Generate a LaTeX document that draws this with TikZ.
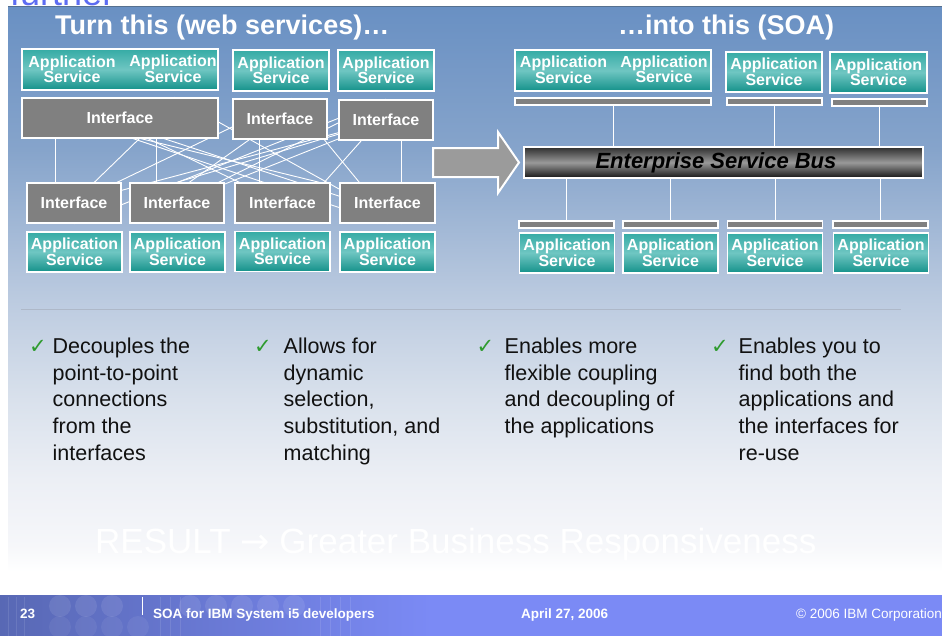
\documentclass[tikz,border=0pt]{standalone}
\usepackage{fontspec}
\setmainfont{Liberation Sans}
\newfontfamily\dejavu{DejaVu Sans}
\usetikzlibrary{calc}
\definecolor{pG}{HTML}{6990C3}
\definecolor{pF}{HTML}{86A4CB}
\definecolor{pE}{HTML}{BCCBE0}
\definecolor{pD}{HTML}{D9E1EC}
\definecolor{pC}{HTML}{ECEFF5}
\definecolor{pB}{HTML}{F6F7FA}
\definecolor{appT}{HTML}{35ABA5}
\definecolor{appM}{HTML}{6FC6C2}
\definecolor{appB}{HTML}{14918A}
\definecolor{ifgray}{HTML}{808080}
\definecolor{arrgray}{HTML}{9B9B9B}
\definecolor{chkgreen}{HTML}{2E9B2E}
\definecolor{bultext}{HTML}{111111}
\definecolor{furtherblue}{HTML}{5D6CF2}
\definecolor{foot}{HTML}{7B8AF5}
\definecolor{footL}{HTML}{5868B4}
\definecolor{topline}{HTML}{56708F}
\definecolor{sepcol}{HTML}{AEB8C8}
\pgfdeclareverticalshading{panelshade}{100bp}{color(0bp)=(white); color(25bp)=(white); color(27bp)=(white); color(29.2bp)=(pB); color(34.8bp)=(pC); color(41.6bp)=(pD); color(50bp)=(pE); color(62.8bp)=(pF); color(75bp)=(pG); color(100bp)=(pG)}
\pgfdeclarelayer{back}
\pgfdeclarelayer{wires}
\pgfsetlayers{back,wires,main}
\newcommand\myAppFont{\fontsize{16}{15.5}\selectfont\bfseries}
\newcommand\myIntFont{\fontsize{16}{16}\selectfont\bfseries}
\tikzset{
  appbox/.style={draw=white, line width=1.4, inner sep=0, minimum height=41,
    top color=appT, bottom color=appB, middle color=appM},
  ifbox/.style={draw=white, line width=1.4, fill=ifgray, inner sep=0,
    minimum height=40, text=white, font=\myIntFont},
  barbox/.style={draw=white, line width=1.2, fill=ifgray, inner sep=0, minimum height=7},
  lbl/.style={text=white, font=\myAppFont, align=center, inner sep=0},
  wire/.style={draw=white, line width=0.9},
  title/.style={anchor=base west, inner sep=0, text=white, font=\fontsize{27}{30}\selectfont\bfseries},
  bul/.style={anchor=base west, inner sep=0, text=bultext, font=\fontsize{21.5}{26}\selectfont},
  chk/.style={anchor=base west, inner sep=0, text=chkgreen, font=\dejavu\fontsize{21}{22}\selectfont},
  foottxt/.style={anchor=base west, inner sep=0, text=white, font=\fontsize{13.5}{15}\selectfont\bfseries},
}
\begin{document}
\begin{tikzpicture}[x=1pt,y=-1pt]
\useasboundingbox (0,0) rectangle (942,635);
\begin{pgfonlayer}{back}
  \fill[white] (-2,-2) rectangle (944,637);
  \shade[shading=panelshade] (8,6) rectangle (944,595);
  \draw[topline, line width=1] (8,6) -- (944,6);
  % footer
  \fill[foot] (-2,595) rectangle (944,640);
  \shade[left color=footL, right color=foot] (-2,595) rectangle (432,640);
  \foreach \cx in {60,86,112,190,216,242,268,294}
    \fill[white, opacity=0.09] (\cx,606) circle (11);
  \foreach \cx in {60,86,112,138}
    \fill[white, opacity=0.06] (\cx,627) circle (11);
  \foreach \gx in {8,16,24,160,170,180,320,330,340,350}
    \draw[white, opacity=0.10, line width=0.6] (\gx,597) -- (\gx,640);
  \draw[sepcol, line width=0.8] (21,309) -- (901,309);
\end{pgfonlayer}

% "further" (cut at the top, as in the slide)
\node[anchor=base west, inner sep=0, text=furtherblue, font=\fontsize{36}{40}\selectfont] (further) at (10,5) {further};

% titles
\node[title] (t1) at (55,34) {Turn this (web services)…};
\node[title] (t2) at (618,34) {…into this (SOA)};

% ---------- left side ----------
\node[appbox, minimum width=196] (AA) at (120,69.5) {};
\node[lbl] (AAl) at (72,69.5) {Application\\Service};
\node[lbl] (AAr) at (173,69) {Application\\Service};
\node[appbox, minimum width=96] (AB) at (281,70.5) {};
\node[lbl] (ABl) at (AB.center) {Application\\Service};
\node[appbox, minimum width=96] (AC) at (386,70.5) {};
\node[lbl] (ACl) at (AC.center) {Application\\Service};

\node[ifbox, minimum width=196] (I1) at (120,118) {Interface};
\node[ifbox, minimum width=94] (I2) at (280,119) {Interface};
\node[ifbox, minimum width=94] (I3) at (386,120) {Interface};

\node[ifbox, minimum width=94] (J1) at (74,203) {Interface};
\node[ifbox, minimum width=94] (J2) at (177,203) {Interface};
\node[ifbox, minimum width=95] (J3) at (282.5,203) {Interface};
\node[ifbox, minimum width=95] (J4) at (387.5,203) {Interface};

\node[appbox, minimum width=95, minimum height=40] (K1) at (74.5,252) {};
\node[lbl] (K1l) at (K1.center) {Application\\Service};
\node[appbox, minimum width=95, minimum height=40] (K2) at (177.5,252) {};
\node[lbl] (K2l) at (K2.center) {Application\\Service};
\node[appbox, minimum width=95, minimum height=40] (K3) at (282.5,251.5) {};
\node[lbl] (K3l) at (K3.center) {Application\\Service};
\node[appbox, minimum width=95, minimum height=40] (K4) at (387.5,252) {};
\node[lbl] (K4l) at (K4.center) {Application\\Service};

% ---------- arrow ----------
\path[draw=white, line width=2, fill=arrgray, line join=miter]
  (433,148) -- (498,148) -- (498,132) -- (519,162.5) -- (498,193) -- (498,177) -- (433,177) -- cycle;

% ---------- right side ----------
\node[appbox, minimum width=196] (RA) at (613,70.5) {};
\node[lbl] (RAl) at (563.5,70) {Application\\Service};
\node[lbl] (RAr) at (664,69.5) {Application\\Service};
\node[appbox, minimum width=96, minimum height=40] (RB) at (774,72) {};
\node[lbl] (RBl) at (RB.center) {Application\\Service};
\node[appbox, minimum width=97] (RC) at (878.5,72.5) {};
\node[lbl] (RCl) at (RC.center) {Application\\Service};

\node[barbox, minimum width=196] (BA) at (613,101.5) {};
\node[barbox, minimum width=95] (BB) at (774.5,101.5) {};
\node[barbox, minimum width=95] (BC) at (879.5,102.5) {};

\node[draw=white, line width=2, inner sep=0, minimum width=399, minimum height=31,
  top color=black!82, bottom color=black!92, middle color=black!40] (ESB) at (723.5,162.5) {};
\node[inner sep=0, text=black, font=\fontsize{22}{24}\selectfont\bfseries\itshape] (ESBt) at (716,162.5) {Enterprise Service Bus};

\node[barbox, minimum width=95] (BD) at (566.5,224.5) {};
\node[barbox, minimum width=95] (BE) at (670.5,224.5) {};
\node[barbox, minimum width=95] (BF) at (775,224.5) {};
\node[barbox, minimum width=95] (BG) at (880.5,224.5) {};

\node[appbox, minimum width=95, minimum height=40] (RD) at (567,253) {};
\node[lbl] (RDl) at (RD.center) {Application\\Service};
\node[appbox, minimum width=95, minimum height=40] (RE) at (670.5,253) {};
\node[lbl] (REl) at (RE.center) {Application\\Service};
\node[appbox, minimum width=95, minimum height=40] (RF) at (775,253) {};
\node[lbl] (RFl) at (RF.center) {Application\\Service};
\node[appbox, minimum width=95, minimum height=40] (RG) at (881,253) {};
\node[lbl] (RGl) at (RG.center) {Application\\Service};

% ---------- wires (behind the boxes) ----------
\begin{pgfonlayer}{wires}
  \draw[wire] ($(I1.south west)+(34,0)$) -- ($(J1.north west)+(29,0)$);
  \draw[wire] ($(I1.south west)+(118,0)$) -- ($(J1.north west)+(68,0)$);
  \draw[wire] ($(I1.south west)+(135,0)$) -- ($(J2.north west)+(27,0)$);
  \draw[wire] (J1.center) -- (I3.center);
  \draw[wire] (J1.south) -- (I3.north);
  \draw[wire] ($(I1.south west)+(120,0)$) -- ($(J3.north west)+(85,0)$);
  \draw[wire] ($(I1.south west)+(143,0)$) -- ($(J4.center)+(0,9)$);
  \draw[wire] ($(I1.south west)+(112,0)$) -- (J4.south);
  \draw[wire] ($(I1.north)+(54,0)$) -- ($(J4.south)+(14,0)$);
  \draw[wire] ($(I2.north)+(12,0)$) -- (J1.center);
  \draw[wire] ($(I2.south west)+(92,0)$) -- ($(J4.north west)+(20,0)$);
  \draw[wire] ($(I3.south west)+(23,0)$) -- ($(J3.north west)+(90,0)$);
  \draw[wire] ($(I2.south west)+(27,0)$) -- ($(J3.north west)+(25,0)$);
  \draw[wire] ($(I3.south west)+(63,0)$) -- ($(J4.north west)+(62,0)$);
  \draw[wire] (I3.center) -- (J2.center);
  \draw[wire] (J2.north) -- (I3.center);
  \draw[wire] (J2.center) -- (I3.north);
  \draw[wire] ($(I1.center)+(-15,0)$) -- (J3.center);
  \draw[wire] ($(I2.south west)+(17,0)$) -- ($(J2.north west)+(60,0)$);
  % bus connectors
  \draw[wire] (BA.south) -- (BA.south |- ESB.north);
  \draw[wire] (BB.south) -- (BB.south |- ESB.north);
  \draw[wire] (BC.south) -- (BC.south |- ESB.north);
  \draw[wire] (ESB.south -| BD.north) -- (BD.north);
  \draw[wire] (ESB.south -| BE.north) -- (BE.north);
  \draw[wire] (ESB.south -| BF.north) -- (BF.north);
  \draw[wire] (ESB.south -| BG.north) -- (BG.north);
\end{pgfonlayer}

% ---------- bullets ----------
\node[chk] (k1) at (29,353.3) {✓};
\node[chk] (k2) at (254,353.3) {✓};
\node[chk] (k3) at (476.5,353.3) {✓};
\node[chk] (k4) at (711,353.3) {✓};
\foreach \txt [count=\i from 0] in {Decouples the,point-to-point,connections,from the,interfaces}
  \node[bul] (ca\i) at (52.5,{353.3+26.7*\i}) {\txt};
\foreach \txt [count=\i from 0] in {Allows for,dynamic,selection{,},{substitution, and},matching}
  \node[bul] (cb\i) at (283.5,{353.3+26.7*\i}) {\txt};
\foreach \txt [count=\i from 0] in {Enables more,flexible coupling,and decoupling of,the applications}
  \node[bul] (cc\i) at (504.5,{353.3+26.7*\i}) {\txt};
\foreach \txt [count=\i from 0] in {Enables you to,find both the,applications and,the interfaces for,re-use}
  \node[bul] (cd\i) at (738.5,{353.3+26.7*\i}) {\txt};

% ---------- result ----------
\node[anchor=base west, inner sep=0, text=white, font=\fontsize{35}{40}\selectfont] (result) at (95,553) {RESULT {\dejavu →} Greater Business Responsiveness};

% ---------- footer ----------
\node[foottxt] (pg) at (20,618) {23};
\coordinate (sepA) at (142,597);
\coordinate (sepB) at (142,615);
\draw[white, line width=0.8] (sepA) -- (sepB);
\node[foottxt] (ft1) at (153,618) {SOA for IBM System i5 developers};
\node[foottxt] (ft2) at (521,618) {April 27, 2006};
\node[foottxt, font=\fontsize{13.5}{15}\selectfont] (ft3) at (796,618) {© 2006 IBM Corporation};
\end{tikzpicture}
\end{document}
